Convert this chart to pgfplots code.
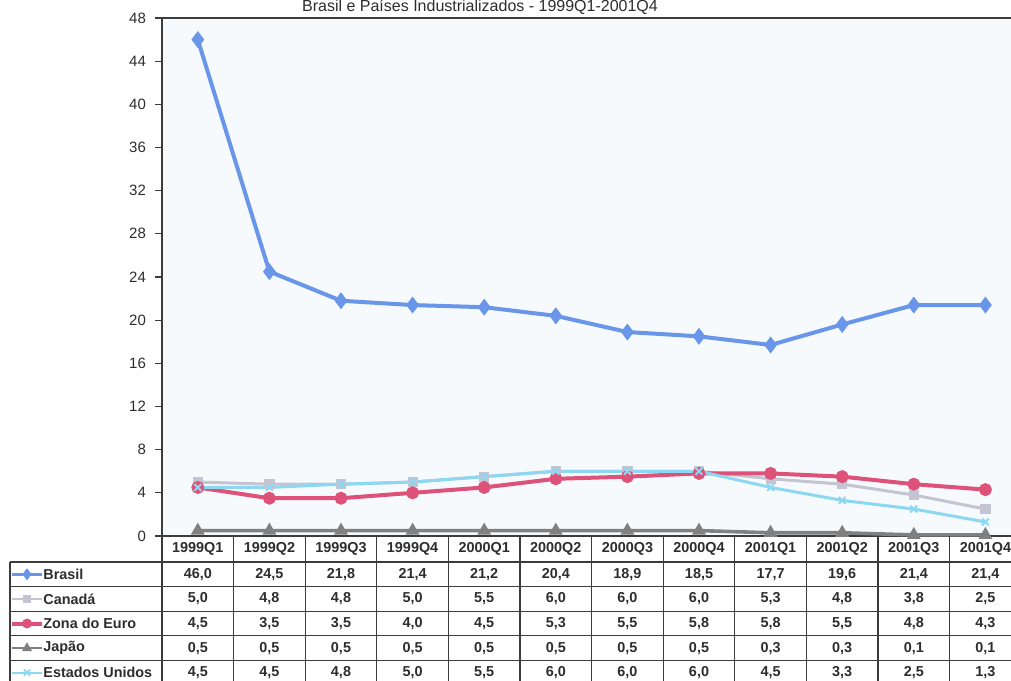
\documentclass[border=0pt]{standalone}
\usepackage{fontspec}
\setmainfont{Liberation Sans}
\usepackage{pgfplots}
\usepackage{pgfplotstable}
\pgfplotsset{compat=1.18}

\definecolor{cbr}{RGB}{105,150,232}
\definecolor{cca}{RGB}{196,196,210}
\definecolor{cze}{RGB}{222,82,122}
\definecolor{cja}{RGB}{128,128,128}
\definecolor{cus}{RGB}{140,215,242}
\definecolor{plotbg}{RGB}{246,250,253}
\definecolor{txt}{RGB}{45,45,45}
\definecolor{grid}{RGB}{60,60,60}

\pgfplotstableread{
x br ca ze ja us
0 46.0 5.0 4.5 0.5 4.5
1 24.5 4.8 3.5 0.5 4.5
2 21.8 4.8 3.5 0.5 4.8
3 21.4 5.0 4.0 0.5 5.0
4 21.2 5.5 4.5 0.5 5.5
5 20.4 6.0 5.3 0.5 6.0
6 18.9 6.0 5.5 0.5 6.0
7 18.5 6.0 5.8 0.5 6.0
8 17.7 5.3 5.8 0.3 4.5
9 19.6 4.8 5.5 0.3 3.3
10 21.4 3.8 4.8 0.1 2.5
11 21.4 2.5 4.3 0.1 1.3
}\data

\begin{document}
\begin{tikzpicture}[font=\fontsize{7.5}{9}\selectfont, text=txt]
\begin{axis}[
  at={(0,0)}, anchor=south west,
  scale only axis, width=429.6pt, height=259pt,
  xmin=-0.5, xmax=11.5, ymin=0, ymax=48,
  ytick={0,4,...,48},
  xtick=\empty,
  axis background/.style={fill=plotbg},
  axis line style={draw=none},
  tick style={draw=grid, line width=0.6pt},
  ytick pos=left, tick align=outside, major tick length=3.5pt,
  yticklabel style={text=txt, font=\fontsize{7.5}{9}\selectfont, xshift=-1pt},
  /pgf/number format/assume math mode=true,
  clip=false,
]
\draw[grid, line width=0.8pt] (rel axis cs:1,1) -- (rel axis cs:0,1) -- (rel axis cs:0,0) -- (rel axis cs:1,0);
\addplot[cbr, line width=2pt, mark=diamond*, mark size=2.6pt] table[x=x,y=br]{\data};
\addplot[cca, line width=1.5pt, mark=square*, mark size=1.8pt] table[x=x,y=ca]{\data};
\addplot[cze, line width=2pt, mark=*, mark size=2.2pt] table[x=x,y=ze]{\data};
\addplot[cja, line width=1.8pt, mark=triangle*, mark size=2.2pt] table[x=x,y=ja]{\data};
\addplot[cus, line width=1.5pt, mark=x, mark size=2.4pt, mark options={line width=1pt}] table[x=x,y=us]{\data};
\end{axis}

% title
\node[anchor=base, font=\fontsize{8}{9.6}\selectfont] at (159pt,262pt) {Brasil e Países Industrializados - 1999Q1-2001Q4};

% data table
\def\cw{35.8pt}
\def\rh{12.3pt}
\foreach \k in {0,...,12} {\draw[grid, line width=0.6pt] ({\k*\cw},0pt) -- ({\k*\cw},-74.5pt);}
\foreach \r in {0,...,5} {\draw[grid, line width=0.6pt] (-76pt,{-13pt-\r*\rh}) -- ({12*\cw},{-13pt-\r*\rh});}
\draw[grid, line width=0.6pt] (-76pt,-13pt) -- (-76pt,-74.5pt);
\begin{scope}[font=\fontsize{7.2}{8.6}\selectfont\bfseries]
\foreach \lab [count=\i from 0] in {1999Q1,1999Q2,1999Q3,1999Q4,2000Q1,2000Q2,2000Q3,2000Q4,2001Q1,2001Q2,2001Q3,2001Q4}
  {\node at ({(\i+0.5)*\cw},-6.5pt) {\lab};}
\pgfkeys{/pgf/number format/.cd, use comma, fixed, fixed zerofill, precision=1, assume math mode=true}
\foreach \col/\r in {br/0, ca/1, ze/2, ja/3, us/4} {
  \foreach \i in {0,...,11} {
    \pgfplotstablegetelem{\i}{\col}\of\data
    \node at ({(\i+0.5)*\cw},{-13pt-(\r+0.5)*\rh}) {\pgfmathprintnumber{\pgfplotsretval}};
  }
}
\foreach \c/\m/\lw/\ms/\name [count=\r from 0] in {cbr/diamond*/1.5pt/2.3pt/Brasil, cca/square*/1.2pt/1.7pt/Canadá, cze/*/2pt/2pt/Zona do Euro, cja/triangle*/1.3pt/2pt/Japão, cus/x/1.2pt/2.2pt/Estados Unidos} {
  \draw[\c, line width=\lw] (-75pt,{-13pt-(\r+0.5)*\rh}) -- (-60pt,{-13pt-(\r+0.5)*\rh});
  \draw[\c, mark=\m, mark size=\ms, mark options={line width=0.9pt}] plot coordinates {(-67.5pt,{-13pt-(\r+0.5)*\rh})};
  \node[anchor=west, inner sep=0pt] at (-59.5pt,{-13pt-(\r+0.5)*\rh}) {\name};
}
\end{scope}

\pgfresetboundingbox
\useasboundingbox (-81pt,-72pt) rectangle (424.5pt,268pt);
\end{tikzpicture}
\end{document}
